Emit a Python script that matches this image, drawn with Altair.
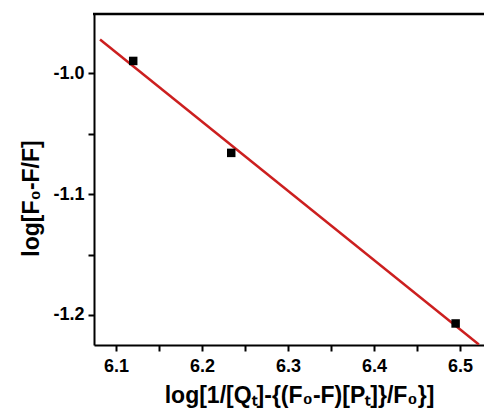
import altair as alt
import pandas as pd

x_vals = [6.120, 6.234, 6.495]
y_vals = [-0.990, -1.066, -1.207]
fit_extent = [6.0814, 6.522]
x_domain = [6.0744, 6.528]
y_domain = [-1.2248, -0.9512]
x_ticks = [6.1, 6.15, 6.2, 6.25, 6.3, 6.35, 6.4, 6.45, 6.5]
y_ticks = [-1.2, -1.15, -1.1, -1.05, -1.0]
x_title = "log[1/[Qₜ]-{(F₀-F)[Pₜ]}/F₀}]"
y_title = "log[F₀-F/F]"

df = pd.DataFrame({"x": x_vals, "y": y_vals})

W, H = 390, 331
FONT = "Liberation Sans"

label_expr = ("abs(datum.value*10 - round(datum.value*10)) < 0.01 ? "
              "replace(format(datum.value, '.1f'), '\u2212', '-') : ''")

xenc = alt.X("x:Q", scale=alt.Scale(domain=x_domain, nice=False, zero=False),
             axis=alt.Axis(values=x_ticks, labelExpr=label_expr, title=x_title,
                           labelFontSize=18, labelPadding=6, titlePadding=9, titleX=205))
yenc = alt.Y("y:Q", scale=alt.Scale(domain=y_domain, nice=False, zero=False),
             axis=alt.Axis(values=y_ticks, labelExpr=label_expr, title=y_title,
                           labelFontSize=18, labelPadding=4, titlePadding=9, titleY=184))

base = alt.Chart(df)

fit = base.transform_regression("x", "y", extent=fit_extent).mark_line(
    color="#cc1f1f", strokeWidth=2.5, clip=True
).encode(x=xenc, y=yenc)

pts = base.mark_square(size=72, color="black", opacity=1).encode(x=xenc, y=yenc)

top = alt.Chart(pd.DataFrame({"a": [0]})).mark_rule(color="black", strokeWidth=2.5).encode(
    x=alt.value(-1), x2=alt.value(W), y=alt.value(0)
)

chart = alt.layer(fit, pts, top).properties(
    width=W, height=H,
    autosize=alt.AutoSizeParams(type="none"),
    padding={"left": 86, "top": 6, "right": 0, "bottom": 64},
).configure_view(strokeWidth=0).configure_axis(
    grid=False, domainColor="black", domainWidth=2,
    tickColor="black", tickWidth=2, tickSize=6,
    labelFont=FONT, labelFontSize=18, labelFontWeight="bold", labelColor="black",
    titleFont=FONT, titleFontSize=23, titleFontWeight="bold", titleColor="black",
)

chart.save("out.html", embed_options={"renderer": "svg", "actions": False})
